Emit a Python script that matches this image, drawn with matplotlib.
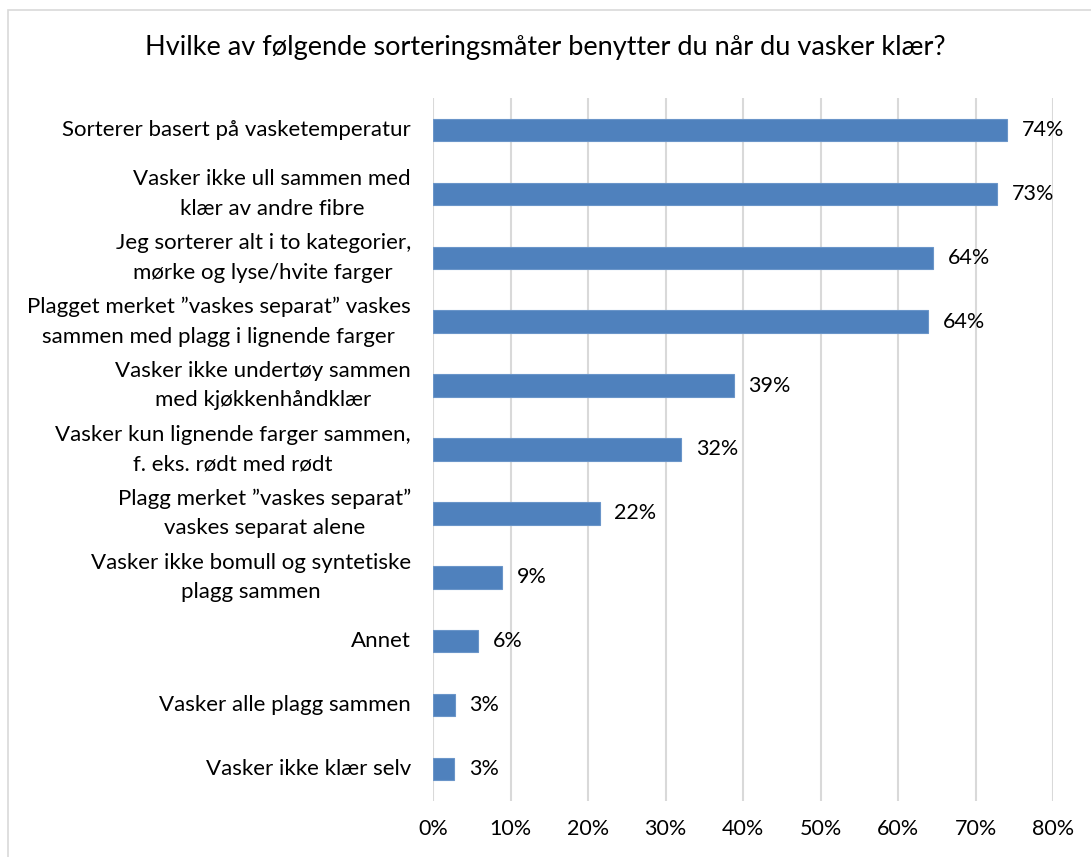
import numpy as np
import matplotlib.pyplot as plt
from matplotlib.patches import Rectangle

plt.rcParams['font.family'] = ['Lato', 'DejaVu Sans']

#Survey answers, top to bottom as in the chart
categories = [
    "Sorterer basert på vasketemperatur",
    "Vasker ikke ull sammen med\nklær av andre fibre",
    "Jeg sorterer alt i to kategorier,\nmørke og lyse/hvite farger",
    "Plagget merket \u201dvaskes separat\u201d vaskes\nsammen med plagg i lignende farger",
    "Vasker ikke undertøy sammen\nmed kjøkkenhåndklær",
    "Vasker kun lignende farger sammen,\nf. eks. rødt med rødt",
    "Plagg merket \u201dvaskes separat\u201d\nvaskes separat alene",
    "Vasker ikke bomull og syntetiske\nplagg sammen",
    "Annet",
    "Vasker alle plagg sammen",
    "Vasker ikke klær selv",
]
values = [74.1, 72.8, 64.5, 63.9, 38.8, 32.0, 21.5, 8.9, 5.8, 2.8, 2.7]
value_labels = ["74%", "73%", "64%", "64%", "39%", "32%", "22%", "9%", "6%", "3%", "3%"]
xticks = np.arange(0, 81, 10)

fig = plt.figure(figsize=(10.91, 8.57), dpi=100)
ax = fig.add_axes([433/1091, 1 - 801/857, (1053 - 433)/1091, 703/857])

y = np.arange(len(categories))
ax.barh(y, values, height=0.35, color='#4F81BD', edgecolor='#6A95C9', linewidth=0.8, zorder=3)

#value labels right of each bar
for yi, v, lab in zip(y, values, value_labels):
    ax.text(v + 1.9, yi, lab, va='center', ha='left', fontsize=15.5, color='black')

ax.set_xlim(0, 80)
ax.set_ylim(len(categories) - 0.5, -0.5)
ax.set_xticks(xticks)
ax.set_xticklabels([f"{t}%" for t in xticks], fontsize=15.5)
ax.set_yticks(y)
ax.set_yticklabels(categories, fontsize=16, ha='right', va='center',
                   multialignment='center', linespacing=1.6)
ax.tick_params(axis='both', length=0)
ax.tick_params(axis='x', pad=13)
ax.tick_params(axis='y', pad=16)

ax.grid(axis='x', color='#D9D9D9', linewidth=1.5, zorder=0)
for s in ax.spines.values():
    s.set_visible(False)

fig.text(0.5, 1 - 48/857, "Hvilke av følgende sorteringsmåter benytter du når du vasker klær?",
         ha='center', va='center', fontsize=19.5)

#chart frame
fig.patches.append(Rectangle((8/1091, -0.02), 1.1, 1 - 10/857 + 0.02, transform=fig.transFigure,
                             fill=False, edgecolor='#D9D9D9', linewidth=1.2))

fig.savefig("out.png", dpi=100)
